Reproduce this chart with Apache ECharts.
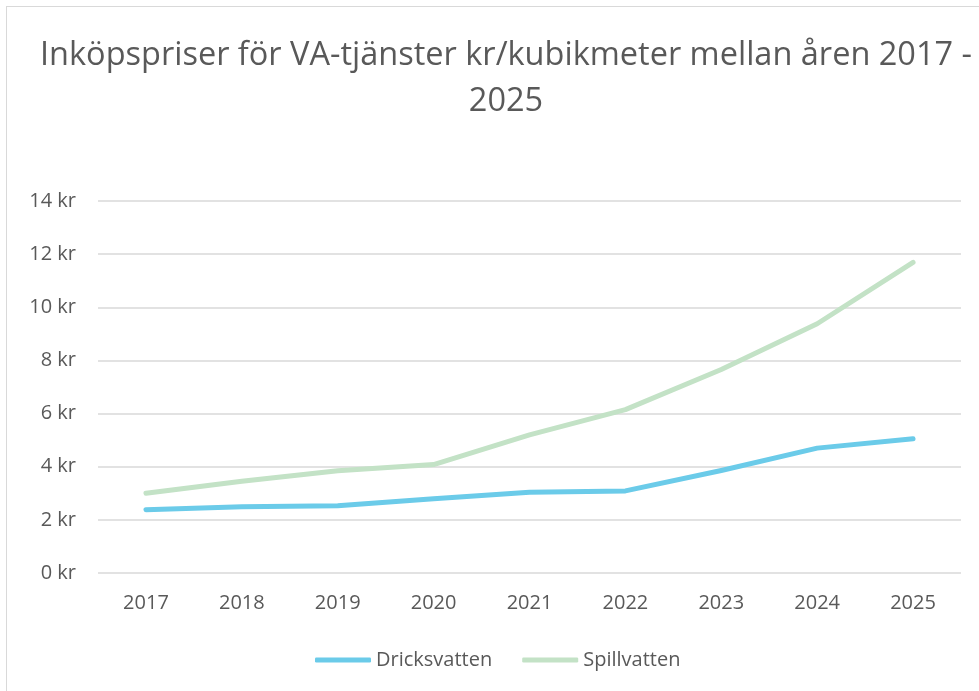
<!DOCTYPE html>
<html>
<head>
<meta charset="utf-8">
<style>
  html, body { margin: 0; padding: 0; background: #fff; }
  #frame { position: absolute; left: 6px; top: 6px; width: 990px; height: 700px; border: 1px solid #d9d9d9; box-sizing: border-box; }
  #chart { position: absolute; left: 0; top: 0; width: 979px; height: 691px; }
</style>
<script src="https://cdn.jsdelivr.net/npm/echarts@6/dist/echarts.min.js"></script>
</head>
<body>
<div id="frame"></div>
<div id="chart"></div>
<script>
// data
var years = ['2017', '2018', '2019', '2020', '2021', '2022', '2023', '2024', '2025'];
var dricksvatten = [2.38, 2.49, 2.53, 2.79, 3.04, 3.09, 3.86, 4.7, 5.05];
var spillvatten = [3.0, 3.45, 3.85, 4.08, 5.2, 6.15, 7.66, 9.38, 11.69];

(function () {
    var myChart = echarts.init(document.getElementById('chart'));
    var font = '"Open Sans", "Noto Sans", sans-serif';
    var option = {
        animation: false,
        title: {
            text: 'Inköpspriser för VA-tjänster kr/kubikmeter mellan åren 2017 -\n2025',
            left: 501,
            top: 28,
            textAlign: 'center',
            textStyle: {
                color: '#595959',
                fontFamily: font,
                fontWeight: 'normal',
                fontSize: 32.5,
                lineHeight: 46
            }
        },
        legend: {
            bottom: 16,
            left: 310,
            itemWidth: 56,
            itemHeight: 5,
            itemGap: 30,
            icon: 'roundRect',
            textStyle: { color: '#595959', fontSize: 20, fontFamily: font },
            data: ['Dricksvatten', 'Spillvatten']
        },
        grid: {
            left: 98,
            right: 18,
            top: 201,
            bottom: 118
        },
        xAxis: {
            type: 'category',
            data: years,
            boundaryGap: true,
            axisLine: { show: false },
            axisTick: { show: false },
            axisLabel: { color: '#595959', fontSize: 20, fontFamily: font, margin: 20 }
        },
        yAxis: {
            type: 'value',
            min: 0,
            max: 14,
            interval: 2,
            axisLabel: {
                color: '#595959',
                fontSize: 20,
                fontFamily: font,
                margin: 22,
                formatter: '{value} kr'
            },
            splitLine: { lineStyle: { color: '#d9d9d9', width: 1.5 } }
        },
        series: [
            {
                name: 'Dricksvatten',
                type: 'line',
                data: dricksvatten,
                showSymbol: false,
                symbol: 'none',
                lineStyle: { color: '#6bcbe9', width: 5, cap: 'round', join: 'round' },
                itemStyle: { color: '#6bcbe9' }
            },
            {
                name: 'Spillvatten',
                type: 'line',
                data: spillvatten,
                showSymbol: false,
                symbol: 'none',
                lineStyle: { color: '#c3e2c6', width: 5, cap: 'round', join: 'round' },
                itemStyle: { color: '#c3e2c6' }
            }
        ]
    };

    myChart.setOption(option);
    window.addEventListener('resize', function () {
        myChart.resize();
    });
})();
</script>
</body>
</html>
